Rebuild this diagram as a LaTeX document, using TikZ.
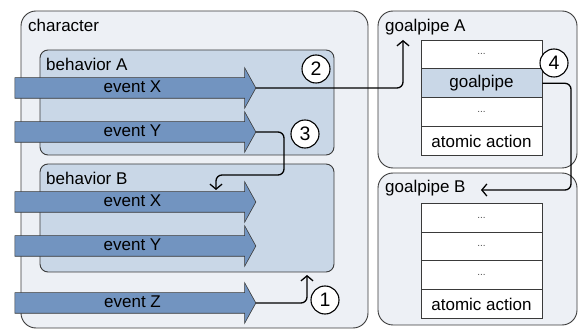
\documentclass[tikz,border=0pt]{standalone}
\usepackage{fontspec}
\setmainfont{Liberation Sans}
\usetikzlibrary{shapes.arrows,arrows.meta}
\definecolor{outerfill}{HTML}{EDF0F5}
\definecolor{behavfill}{HTML}{C9D7E7}
\definecolor{eventfill}{HTML}{7294C0}
\definecolor{framegray}{HTML}{3A3A3A}
\newcommand{\stackdots}{\textcolor{black!70}{\fontsize{10}{12}\selectfont ...}}
\begin{document}
\begin{tikzpicture}[x=1pt,y=-1pt,
  font=\fontsize{17}{20}\selectfont,
  container/.style={draw=framegray, line width=0.9pt, rounded corners=15pt, fill=outerfill, inner sep=0pt},
  behav/.style={draw=framegray, line width=0.9pt, rounded corners=8pt, fill=behavfill, inner sep=0pt},
  boxlabel/.style={anchor=base west, inner sep=0pt},
  eventarrow/.style={single arrow, draw=framegray, line width=0.6pt, fill=eventfill,
    single arrow head extend=10pt, single arrow tip angle=122,
    minimum height=241pt, text height=12.5pt, text depth=3.5pt,
    inner ysep=2pt, inner xsep=0pt},
  stackrow/.style={draw=framegray, line width=0.8pt, fill=white,
    minimum width=121pt, minimum height=28.9pt, inner sep=0pt},
  currentrow/.style={stackrow, fill=behavfill},
  link/.style={draw=black, line width=1.3pt, rounded corners=6pt,
    -{Straight Barb[length=5pt,width=12pt]}},
  marker/.style={circle, draw=black, line width=1.1pt, fill=white,
    minimum size=28pt, inner sep=0pt, font=\fontsize{19.5}{22}\selectfont}
]
\useasboundingbox (0,0) rectangle (579,331);

% character with its two behaviors
\node[container, minimum width=347pt, minimum height=317pt] (character) at (194.5,169.5) {};
\node[boxlabel] (charlabel) at (28,32) {character};
\node[behav, minimum width=294pt, minimum height=105pt] (behA) at (187,102.5) {};
\node[boxlabel] (behAlabel) at (46,71) {behavior A};
\node[behav, minimum width=294pt, minimum height=108pt] (behB) at (187,218) {};
\node[boxlabel] (behBlabel) at (46,185) {behavior B};

% incoming events
\node[eventarrow] (axA) at (132.5,88) {event X};
\node[eventarrow] (ayA) at (132.5,132) {event Y};
\node[eventarrow] (axB) at (132.5,202) {event X};
\node[eventarrow] (ayB) at (132.5,246) {event Y};
\node[eventarrow] (azC) at (132.5,303) {event Z};

% goalpipes
\node[container, minimum width=199pt, minimum height=157pt] (gpA) at (477.5,89.5) {};
\node[boxlabel] (gpAlabel) at (385,32) {goalpipe A};
\node[stackrow] (gpA1) at (481.5,54.4) {\stackdots};
\node[currentrow] (gpA2) at (481.5,83.3) {goalpipe};
\node[stackrow] (gpA3) at (481.5,112.2) {\stackdots};
\node[stackrow] (gpA4) at (481.5,141.1) {atomic action};

\node[container, minimum width=199pt, minimum height=152pt] (gpB) at (477.5,249) {};
\node[boxlabel] (gpBlabel) at (385,193) {goalpipe B};
\node[stackrow] (gpB1) at (481.5,217.5) {\stackdots};
\node[stackrow] (gpB2) at (481.5,246.4) {\stackdots};
\node[stackrow] (gpB3) at (481.5,275.3) {\stackdots};
\node[stackrow] (gpB4) at (481.5,304.2) {atomic action};

% connector end points and bends
\coordinate (c1end) at (307,275);
\coordinate (c2end) at (403,40);
\coordinate (c3bend) at (284,175);
\coordinate (c3end) at (216,190);
\coordinate (c4bend) at (571,190);
\coordinate (c4end) at (481,190);

\draw[link] (azC.tip) -| (c1end);
\draw[link] (axA.tip) -| (c2end);
\draw[link] (ayA.tip) -| (c3bend) -| (c3end);
\draw[link] (gpA2.east) -| (c4bend) -- (c4end);

% step numbers
\node[marker] (n1) at (325,300) {1};
\node[marker] (n2) at (316,69) {2};
\node[marker] (n3) at (305,134) {3};
\node[marker] (n4) at (554,63) {4};
\end{tikzpicture}
\end{document}
